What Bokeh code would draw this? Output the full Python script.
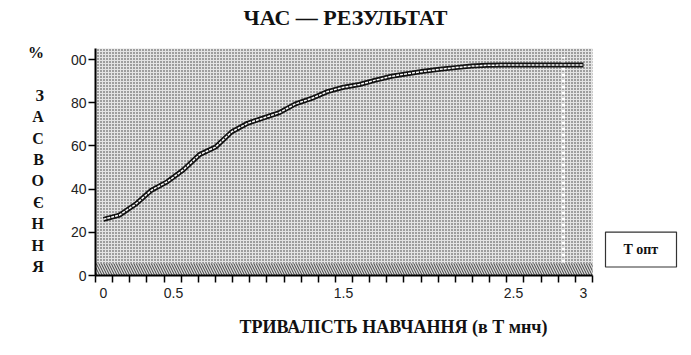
from bokeh.plotting import figure
from bokeh.models import FixedTicker, BoxAnnotation, Label, Range1d, ColumnDataSource
from bokeh.embed import file_html
from bokeh.resources import INLINE

# ---- data ----
time_t = [0.0, 0.1, 0.2, 0.3, 0.4, 0.5, 0.6, 0.7, 0.8, 0.9, 1.0,
          1.1, 1.2, 1.3, 1.4, 1.5, 1.6, 1.7, 1.8, 1.9, 2.0,
          2.1, 2.2, 2.3, 2.4, 2.5, 2.6, 2.7, 2.8, 2.9, 3.0]
mastery = [26.0, 28.0, 33.0, 39.5, 43.5, 49.0, 56.0, 59.5, 66.5, 70.5, 73.0,
           75.5, 79.5, 82.0, 85.2, 87.2, 88.5, 90.5, 92.3, 93.5, 94.6,
           95.5, 96.3, 97.0, 97.4, 97.5, 97.5, 97.5, 97.5, 97.5, 97.5]
x_tick_pos = [0.0, 0.4375, 1.5, 2.5625, 3.0]
x_tick_text = ["0", "0.5", "1.5", "2.5", "3"]
y_ticks = [0, 20, 40, 60, 80, 100]
y_tick_text = ["0", "20", "40", "60", "80", "00"]
t_opt = 2.875
title_text = "ЧАС — РЕЗУЛЬТАТ"
x_title = "ТРИВАЛІСТЬ НАВЧАННЯ (в Т мнч)"
y_title_letters = ["%", "", "З", "А", "С", "В", "О", "Є", "Н", "Н", "Я"]
box_text = "T опт"

SERIF = "Liberation Serif"
SANS = "Liberation Sans"

# plot-area (stippled) extents in data units
x0, x1 = -0.05, 3.05625
y0, y1 = 0.0, 105.2
XPX = (x1 - x0) / 497.0     # data per pixel horizontally
YPX = (y1 - y0) / 227.5     # data per pixel vertically
fx1 = x0 + 596 * XPX
fy1 = y0 + 275.5 * YPX

def dx(px):
    return x0 + (px - 95) * XPX

def dy(py):
    return y0 + (275.5 - py) * YPX

p = figure(width=691, height=355, output_backend="svg", toolbar_location=None,
           x_range=Range1d(x0, fx1), y_range=Range1d(y0, fy1),
           min_border_left=95, min_border_right=0, min_border_top=0, min_border_bottom=80)
p.background_fill_color = "white"
p.border_fill_color = "white"
p.outline_line_color = None
p.grid.visible = False

# stippled plot area
p.add_layout(BoxAnnotation(right=x1, top=y1, fill_color="#e4e4e4", fill_alpha=1.0, line_color=None,
                           hatch_pattern="dot", hatch_color="#333333", hatch_scale=3,
                           hatch_weight=1, level="underlay"))
# hatched band near zero
p.add_layout(BoxAnnotation(right=x1, bottom=0, top=5.6, fill_color="#dadada", fill_alpha=1.0,
                           line_color=None, hatch_pattern="\\", hatch_color="#1a1a1a",
                           hatch_scale=5, hatch_weight=0.8, level="underlay"))

# T opt white dotted line
p.segment(x0=[t_opt], y0=[6.0], x1=[t_opt], y1=[y1 - 4], line_color="white",
          line_width=3, line_dash="3 3")

src = ColumnDataSource(dict(t=time_t, v=mastery))
p.line("t", "v", source=src, line_color="#111", line_width=5)
p.line("t", "v", source=src, line_color="white", line_width=1.5, line_dash="3 1")

# axes
xa = p.xaxis[0]
xa.bounds = (x0, x1)
xa.ticker = FixedTicker(ticks=x_tick_pos,
                        minor_ticks=[x0 + (x1 - x0) * k / 29 for k in range(30)])
xa.major_label_overrides = {pos: txt for pos, txt in zip(x_tick_pos, x_tick_text)}
xa.major_tick_line_color = None
xa.major_tick_out = 7
xa.major_tick_in = 0
xa.minor_tick_out = 7
xa.minor_tick_in = 0
xa.minor_tick_line_color = "black"
xa.minor_tick_line_width = 1.5
xa.axis_line_width = 2
xa.axis_line_color = "black"
xa.major_label_standoff = 5
xa.major_label_text_font = SANS
xa.major_label_text_font_size = "14px"
xa.major_label_text_color = "#222"
xa.axis_label = x_title
xa.axis_label_standoff = 16
xa.axis_label_text_font = SERIF
xa.axis_label_text_font_style = "bold"
xa.axis_label_text_font_size = "18px"
xa.axis_label_text_color = "#111"

ya = p.yaxis[0]
ya.bounds = (y0, y1)
ya.ticker = FixedTicker(ticks=y_ticks, minor_ticks=[])
ya.major_label_overrides = {t: s for t, s in zip(y_ticks, y_tick_text)}
ya.major_tick_out = 7
ya.major_tick_in = 0
ya.major_tick_line_width = 1.5
ya.axis_line_width = 2
ya.axis_line_color = "black"
ya.major_label_standoff = 2
ya.major_label_text_font = SANS
ya.major_label_text_font_size = "14px"
ya.major_label_text_color = "#222"
ya.axis_label = "\n".join(["", ""] + y_title_letters)
ya.axis_label_orientation = "horizontal"
ya.axis_label_standoff = 24
ya.axis_label_text_font = SERIF
ya.axis_label_text_font_style = "bold"
ya.axis_label_text_font_size = "16px"
ya.axis_label_text_line_height = 1.26
ya.axis_label_text_color = "#111"

p.add_layout(Label(x=dx(345), y=dy(17), text=title_text, text_font=SERIF,
                   text_font_style="bold", text_font_size="22px", text_align="center",
                   text_baseline="middle", text_color="#111"))
# "T опт" box
p.add_layout(BoxAnnotation(left=dx(605), right=dx(676), bottom=dy(267), top=dy(232),
                           fill_color="white", fill_alpha=1.0, line_color="#333",
                           line_alpha=1.0, line_width=1.2, level="overlay"))
p.add_layout(Label(x=dx(640.5), y=dy(249.5), text=box_text, text_font=SERIF,
                   text_font_style="bold", text_font_size="14px", text_align="center",
                   text_baseline="middle", text_color="#111", level="overlay"))

open("out.html", "w").write(file_html(p, INLINE))
